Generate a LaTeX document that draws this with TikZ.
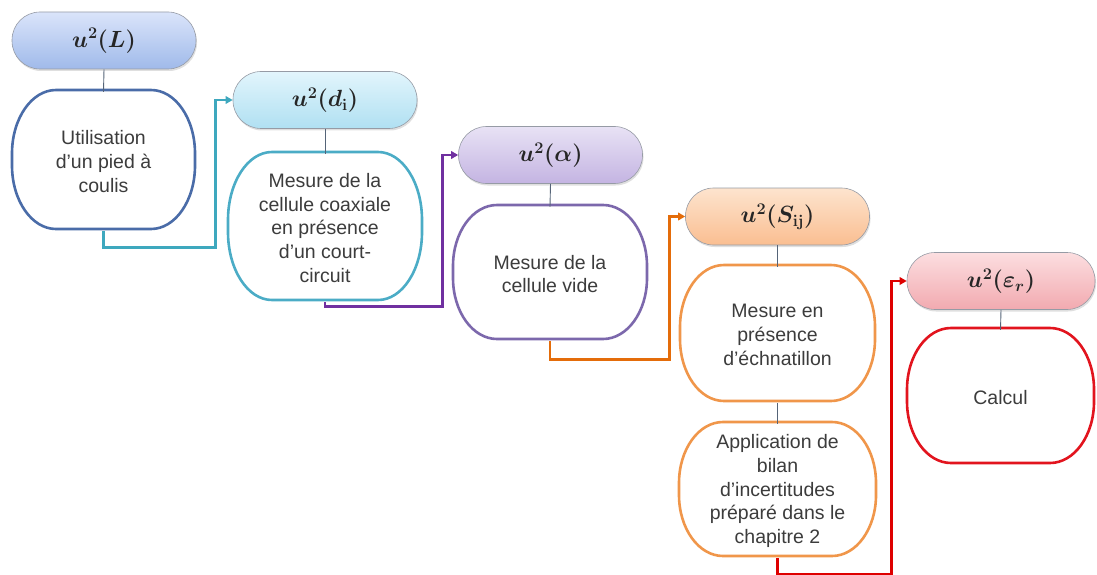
\documentclass[tikz,border=0pt]{standalone}
\usepackage{bm}
\usepackage{graphicx}
\usepackage{fontspec}
\setmainfont{Liberation Sans}
\usetikzlibrary{calc,arrows.meta,shadows}
\definecolor{txt}{RGB}{60,60,60}
\definecolor{hborder}{RGB}{150,155,165}
\definecolor{linkc}{RGB}{85,100,120}
\definecolor{bA}{RGB}{74,108,168}
\definecolor{bB}{RGB}{75,172,198}
\definecolor{bC}{RGB}{124,104,172}
\definecolor{bD}{RGB}{240,150,74}
\definecolor{bE}{RGB}{226,20,30}
\definecolor{cA}{RGB}{62,168,190}
\definecolor{cB}{RGB}{112,48,160}
\definecolor{cC}{RGB}{228,108,10}
\definecolor{cD}{RGB}{222,0,0}
\newcommand\ovbox[7]{%
  \pgfmathsetmacro\ovry{(#5-#3)/2-6}%
  \draw[#6, line width=2.6pt, fill=white] ({#2+44},#3) -- ({#4-44},#3)
    arc[start angle=-90,end angle=0,x radius=44,y radius=\ovry] -- ({#4},{#5-\ovry})
    arc[start angle=0,end angle=90,x radius=44,y radius=\ovry] -- ({#2+44},#5)
    arc[start angle=90,end angle=180,x radius=44,y radius=\ovry] -- ({#2},{#3+\ovry})
    arc[start angle=180,end angle=270,x radius=44,y radius=\ovry] -- cycle;
  \node[boxtext, minimum width={#4-#2}, minimum height={#5-#3}] (#1) at ({(#2+#4)/2},{(#3+#5)/2+2}) {#7};
}
\newcommand\hmath[1]{\scalebox{1.13}{$\bm{#1}$}}
\tikzset{
  hdr/.style={draw=hborder, line width=0.6pt, rounded corners=28pt, minimum width=184pt,
    minimum height=57pt, inner sep=0pt, text=black!85, font=\fontsize{20.74}{25}\selectfont,
    drop shadow={shadow xshift=1pt, shadow yshift=-2pt, opacity=0.25}},
  boxtext/.style={inner sep=0pt, align=center, text=txt, font=\fontsize{19.5}{23.8}\selectfont},
  link/.style={draw=linkc, line width=0.9pt},
  conn/.style={line width=2.8pt, rounded corners=0pt, -{Triangle[length=7pt,width=7.5pt]}},
}
\begin{document}
\begin{tikzpicture}[x=1pt,y=-1pt]
\useasboundingbox (0,0) rectangle (1097,575);
% headers
\node[hdr, top color={rgb,255:red,218;green,228;blue,250}, bottom color={rgb,255:red,160;green,186;blue,234}] (h1) at (104,40.5) {\hmath{u^2(L)}};
\node[hdr, top color={rgb,255:red,226;green,245;blue,252}, bottom color={rgb,255:red,176;green,224;blue,242}] (h2) at (325,100) {\hmath{u^2(d_{\mathbf{i}})}};
\node[hdr, top color={rgb,255:red,232;green,226;blue,245}, bottom color={rgb,255:red,196;green,180;blue,226}] (h3) at (550.5,155) {\hmath{u^2(\alpha)}};
\node[hdr, top color={rgb,255:red,253;green,228;blue,206}, bottom color={rgb,255:red,250;green,190;blue,145}] (h4) at (777.5,216.5) {\hmath{u^2(S_{\mathbf{ij}})}};
\node[hdr, minimum width=188pt, top color={rgb,255:red,252;green,222;blue,224}, bottom color={rgb,255:red,242;green,170;blue,176}] (h5) at (1001,281) {\hmath{u^2(\varepsilon_r)}};
% boxes
\ovbox{b1}{12}{90}{195}{229}{bA}{Utilisation\\d’un pied à\\coulis}
\ovbox{b2}{228}{152}{422}{300}{bB}{Mesure de la\\cellule coaxiale\\en présence\\d’un court-\\circuit}
\ovbox{b3}{453}{205}{647}{339}{bC}{Mesure de la\\cellule vide}
\ovbox{b4}{680}{265}{875}{401}{bD}{Mesure en\\présence\\d’échnatillon}
\ovbox{b5}{679}{422}{876}{556}{bD}{Application de\\bilan\\d’incertitudes\\préparé dans le\\chapitre 2}
\ovbox{b6}{907}{328}{1094}{463}{bE}{Calcul}
% links
\draw[link] (h1.south) -- (b1.north);
\draw[link] (h2.south) -- (b2.north);
\draw[link] (h3.south) -- (b3.north);
\draw[link] (h4.south) -- (b4.north);
\draw[link] (b4.south) -- (b5.north);
\draw[link] (h5.south) -- (b6.north);
% connectors
\coordinate (k1) at ($(h2.west)+(-17,0)$);
\coordinate (k2) at ($(h3.west)+(-16,0)$);
\coordinate (k3) at ($(h4.west)+(-16,0)$);
\coordinate (k4) at ($(h5.west)+(-15,0)$);
\draw[conn, cA] (b1.south) -- ++(0,16) -| (k1) -- (h2.west);
\draw[conn, cB] (b2.south) -- ++(0,4) -| (k2) -- (h3.west);
\draw[conn, cC] (b3.south) -- ++(0,18) -| (k3) -- (h4.west);
\draw[conn, cD] (b5.south) -- ++(0,16) -| (k4) -- (h5.west);
\end{tikzpicture}
\end{document}
